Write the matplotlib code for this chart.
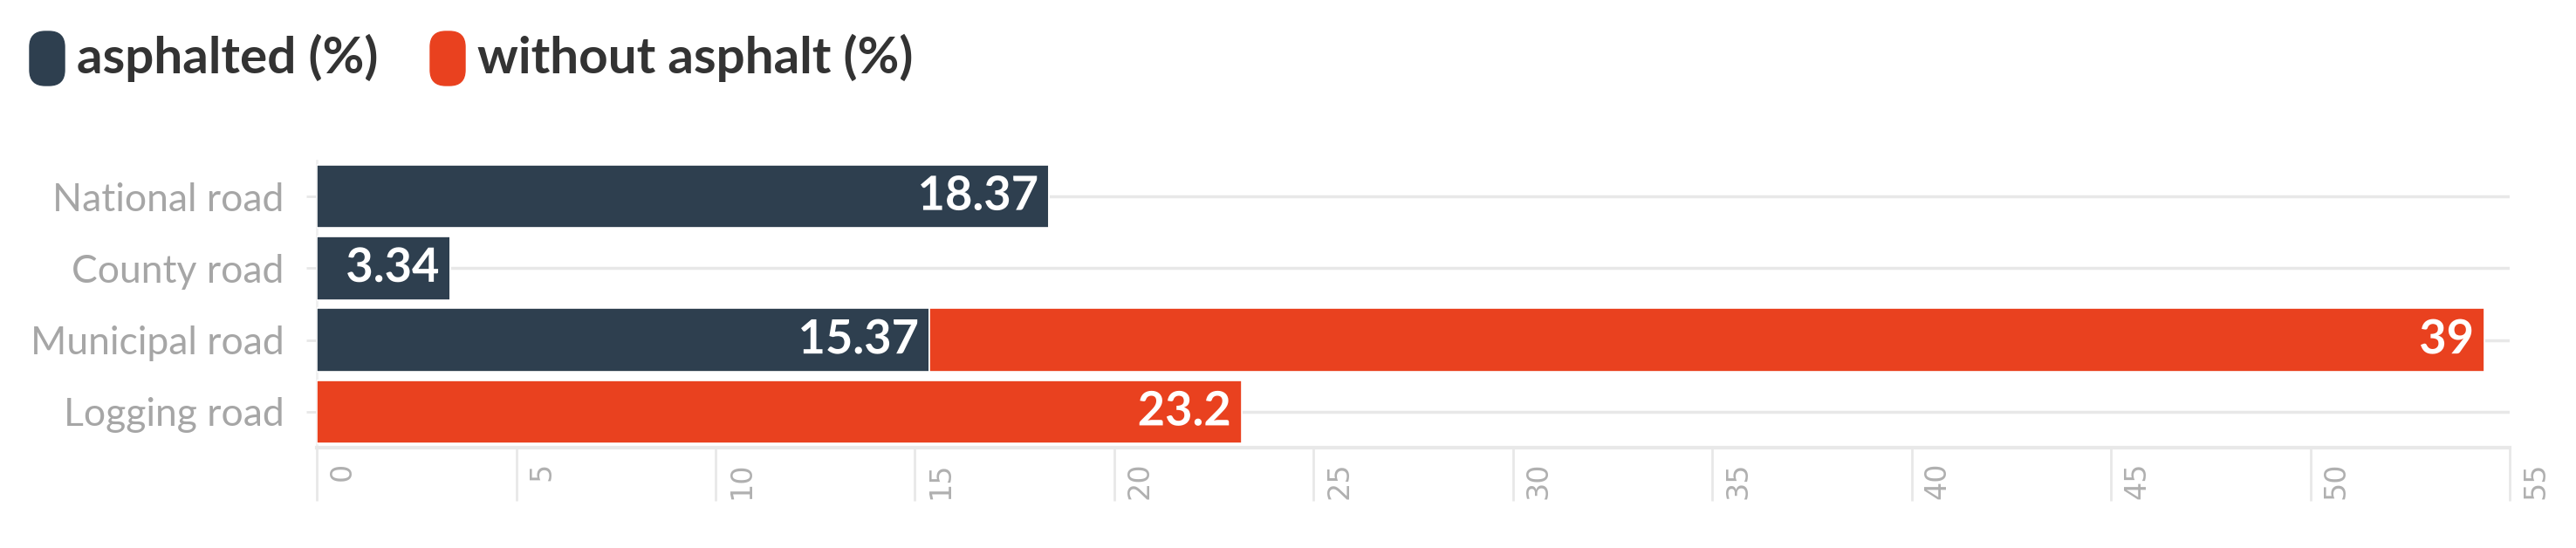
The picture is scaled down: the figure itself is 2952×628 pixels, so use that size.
import matplotlib.pyplot as plt
import matplotlib.patheffects as pe
import matplotlib.transforms as mtransforms
from matplotlib.patches import FancyBboxPatch

categories = ['National road', 'County road', 'Municipal road', 'Logging road']
asphalted = [18.37, 3.34, 15.37, 0]
without_asphalt = [0, 0, 39, 23.2]
series_names = ['asphalted (%)', 'without asphalt (%)']
x_ticks = [0, 5, 10, 15, 20, 25, 30, 35, 40, 45, 50, 55]

navy = '#2e3f4f'
red = '#e9411f'
grid_c = '#e8e8e8'

plt.rcParams['font.family'] = ['Lato', 'DejaVu Sans']

fig = plt.figure(figsize=(29.52, 6.28), dpi=100)
ax = fig.add_axes([0.123, 0.183, 0.8513, 0.524])

y = range(len(categories))
b1 = ax.barh(y, asphalted, height=0.88, color=navy, edgecolor='white', linewidth=1.2, zorder=3)
b2 = ax.barh(y, without_asphalt, left=asphalted, height=0.88, color=red,
             edgecolor='white', linewidth=1.2, zorder=3)

# 数值标签
for bars, col in ((b1, navy), (b2, red)):
    for rect in bars:
        w = rect.get_width()
        if w <= 0:
            continue
        ax.annotate(f'{w:g}', (rect.get_x() + w, rect.get_y() + rect.get_height() / 2),
                    xytext=(-9, 0), textcoords='offset points', ha='right', va='center',
                    color='white', fontsize=39, fontweight='bold', zorder=5,
                    path_effects=[pe.withStroke(linewidth=8, foreground=col)])

ax.set_xlim(0, 55)
ax.set_ylim(3.5, -0.5)
ax.set_yticks(list(y))
ax.set_yticklabels(categories, fontsize=32, color='#a6a6a6')
ax.set_xticks(x_ticks)
ax.set_xticklabels([str(t) for t in x_ticks], rotation=90, ha='left', va='top',
                   fontsize=24, color='#b0b0b0', family='DejaVu Sans')
ax.tick_params(axis='x', length=44, width=2, color=grid_c, pad=-32)
ax.tick_params(axis='y', length=9, width=2, color=grid_c, pad=18)

# x轴标签往右挪一点
offset = mtransforms.ScaledTranslation(0.13, 0, fig.dpi_scale_trans)
for lbl in ax.get_xticklabels():
    lbl.set_transform(lbl.get_transform() + offset)

ax.grid(axis='y', color=grid_c, linewidth=2.5, zorder=0)
for s in ('top', 'right'):
    ax.spines[s].set_visible(False)
ax.spines['bottom'].set_color(grid_c)
ax.spines['bottom'].set_linewidth(3)
ax.spines['left'].set_color('#f0f0f0')
ax.spines['left'].set_linewidth(2)

# 图例
W, H = fig.get_size_inches() * fig.dpi
def legend_item(x_px, color, label):
    fig.patches.append(FancyBboxPatch((x_px / W, 1 - 98 / H), 40 / W, 62 / H,
                                      boxstyle='round,pad=0,rounding_size=0.006',
                                      transform=fig.transFigure, color=color,
                                      mutation_aspect=W / H))
    fig.text((x_px + 54) / W, 1 - 66 / H, label, fontsize=42, fontweight='bold',
             color='#333333', va='center', ha='left')

legend_item(34, navy, series_names[0])
legend_item(493, red, series_names[1])

fig.savefig('out.png', dpi=100, facecolor='white')
